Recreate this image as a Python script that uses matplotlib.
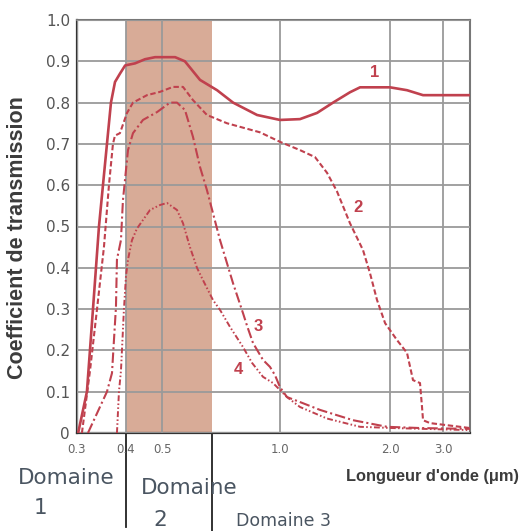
import numpy as np
import matplotlib
matplotlib.use('Agg')
import matplotlib.pyplot as plt
import matplotlib.transforms as mtransforms

plt.rcParams['font.family'] = ['Liberation Sans', 'DejaVu Sans']

# wavelength (um) / transmission for the four glasses
x1 = [0.302, 0.318, 0.3295, 0.3413, 0.3494, 0.3577, 0.3662, 0.375, 0.386, 0.398, 0.423, 0.450, 0.479,
      0.540, 0.572, 0.625, 0.691, 0.759, 0.874, 1.0, 1.134, 1.263, 1.397, 1.554, 1.656, 2.0, 2.278, 2.575, 3.7]
y1 = [0, 0.10, 0.30, 0.50, 0.60, 0.70, 0.80, 0.85, 0.87, 0.89, 0.895, 0.905, 0.91,
      0.91, 0.90, 0.855, 0.83, 0.80, 0.77, 0.758, 0.76, 0.775, 0.80, 0.825, 0.837, 0.837, 0.83, 0.818, 0.818]

x2 = [0.3088, 0.3237, 0.3374, 0.3514, 0.3619, 0.3705, 0.3749, 0.386, 0.4025, 0.4177, 0.4555, 0.4938,
      0.5333, 0.5656, 0.5998, 0.6511, 0.7324, 0.8892, 1.0, 1.134, 1.247, 1.345, 1.432, 1.554, 1.687,
      1.763, 1.843, 1.939, 2.110, 2.278, 2.385, 2.516, 2.555, 2.575, 2.716, 3.7]
y2 = [0, 0.15, 0.30, 0.45, 0.60, 0.70, 0.72, 0.726, 0.775, 0.80, 0.818, 0.826,
      0.838, 0.838, 0.806, 0.77, 0.75, 0.728, 0.705, 0.685, 0.668, 0.63, 0.585, 0.508, 0.443,
      0.387, 0.322, 0.266, 0.225, 0.194, 0.128, 0.121, 0.063, 0.031, 0.024, 0.012]

x3 = [0.3199, 0.3577, 0.3684, 0.3727, 0.3771, 0.3793, 0.3883, 0.3929, 0.4050, 0.4177, 0.4444, 0.4848,
      0.5240, 0.5460, 0.5723, 0.5998, 0.6251, 0.6511, 0.7031, 0.7587, 0.8048, 0.8237, 0.8533, 0.9049,
      0.9430, 0.9710, 1.0, 1.045, 1.134, 1.286, 1.584, 1.963, 2.516, 3.7]
y3 = [0, 0.10, 0.145, 0.225, 0.305, 0.42, 0.467, 0.564, 0.685, 0.726, 0.758, 0.777,
      0.80, 0.80, 0.782, 0.717, 0.644, 0.588, 0.467, 0.363, 0.29, 0.26, 0.218, 0.177,
      0.16, 0.14, 0.111, 0.087, 0.075, 0.056, 0.031, 0.015, 0.012, 0.01]

x4 = [0.3793, 0.3838, 0.3883, 0.3929, 0.3952, 0.400, 0.4050, 0.4151, 0.4281, 0.4642, 0.4938, 0.5149,
      0.5460, 0.5656, 0.5893, 0.6141, 0.6362, 0.6745, 0.7031, 0.7454, 0.8048, 0.8482, 0.9049, 0.9597,
      1.045, 1.134, 1.345, 1.656, 2.046, 3.7]
y4 = [0, 0.10, 0.15, 0.25, 0.30, 0.38, 0.42, 0.467, 0.495, 0.54, 0.552, 0.557,
      0.54, 0.508, 0.45, 0.40, 0.37, 0.322, 0.298, 0.257, 0.208, 0.17, 0.136, 0.121,
      0.087, 0.063, 0.035, 0.015, 0.012, 0.007]

xticks = [0.3, 0.4, 0.5, 1.0, 2.0, 3.0]
xtick_labels = ['0.3', '0.4', '0.5', '1.0', '2.0', '3.0']
yticks = [0, 0.1, 0.2, 0.3, 0.4, 0.5, 0.6, 0.7, 0.8, 0.9, 1.0]
ytick_labels = ['0', '0.1', '0.2', '0.3', '0.4', '0.5', '0.6', '0.7', '0.8', '0.9', '1.0']
domain2 = (0.4, 0.67)

# the printed axis is roughly logarithmic but uneven, follow it piecewise
AX_LOG = np.log10([0.3, 0.4, 0.5, 1.0, 2.0, 3.0, 3.7])
AX_POS = np.array([0, 49, 85, 203, 313, 366, 393], dtype=float)

def fwd(x):
    x = np.clip(np.asarray(x, dtype=float), 1e-3, None)
    return np.interp(np.log10(x), AX_LOG, AX_POS)

def inv(p):
    return 10 ** np.interp(np.asarray(p, dtype=float), AX_POS, AX_LOG)

red = '#c0414e'
W, H = 523, 531
fig = plt.figure(figsize=(W / 100, H / 100), dpi=100)
ax = fig.add_axes([77 / W, 1 - 433 / H, 393 / W, 413 / H])
ax.set_xscale('function', functions=(fwd, inv))
ax.set_xlim(0.3, 3.7)
ax.set_ylim(0, 1.0)

ax.axvspan(domain2[0], domain2[1], color='#d8ab97', zorder=0.5, lw=0)

ax.plot(x1, y1, color=red, lw=1.9, zorder=4)
ax.plot(x2, y2, color=red, lw=1.5, ls=(0, (2.6, 1.3)), zorder=4)
ax.plot(x3, y3, color=red, lw=1.5, ls=(0, (5, 1.5, 1, 1.5)), zorder=4)
ax.plot(x4, y4, color=red, lw=1.4, ls=(0, (3, 1.2, 0.8, 1.2, 0.8, 1.2)), zorder=4)

for txt, tx, ty in [('1', 1.82, 0.872), ('2', 1.635, 0.547), ('3', 0.879, 0.257), ('4', 0.781, 0.153)]:
    ax.text(tx, ty, txt, color=red, fontsize=12, fontweight='bold', ha='center', va='center', zorder=5)

ax.set_axisbelow(False)
ax.grid(True, color='#9a9a9a', lw=1.3, zorder=2)
ax.set_xticks(xticks)
ax.set_xticklabels(xtick_labels, family='DejaVu Sans', fontsize=8.5, color='#666666')
ax.set_yticks(yticks)
ax.set_yticklabels(ytick_labels, family='DejaVu Sans', fontsize=11, color='#555555')
ax.minorticks_off()
ax.tick_params(axis='both', length=0)
ax.tick_params(axis='x', pad=7)
ax.tick_params(axis='y', pad=5)
for side in ['top', 'right']:
    ax.spines[side].set_color('#777777')
    ax.spines[side].set_linewidth(1.5)
for side in ['left', 'bottom']:
    ax.spines[side].set_color('#333333')
    ax.spines[side].set_linewidth(1.6)

# domain separators below the axis
trans = mtransforms.blended_transform_factory(ax.transData, ax.transAxes)
ax.plot([domain2[0], domain2[0]], [0, -0.228], color='#222222', lw=1.3, transform=trans, clip_on=False)
ax.plot([domain2[1], domain2[1]], [0, -0.24], color='#222222', lw=1.3, transform=trans, clip_on=False)

fig.text(18 / W, 1 - 238 / H, 'Coefficient de transmission', rotation=90, ha='center', va='center',
         fontsize=15.5, fontweight='bold', color='#3c3c3c')
fig.text(432 / W, 1 - 477 / H, "Longueur d'onde (μm)", ha='center', va='center',
         fontsize=11.8, fontweight='bold', color='#3c3c3c')

dcol = '#4a5561'
dfont = 'DejaVu Sans'
fig.text(66 / W, 1 - 478 / H, 'Domaine', ha='center', va='center', fontsize=15.5,
         color=dcol, family=dfont)
fig.text(40 / W, 1 - 508 / H, '1', ha='center', va='center', fontsize=15.5,
         color=dcol, family=dfont)
fig.text(189 / W, 1 - 488 / H, 'Domaine', ha='center', va='center', fontsize=15.5,
         color=dcol, family=dfont)
fig.text(160 / W, 1 - 520 / H, '2', ha='center', va='center', fontsize=15.5,
         color=dcol, family=dfont)
fig.text(283 / W, 1 - 521 / H, 'Domaine 3', ha='center', va='center', fontsize=12.5,
         color=dcol, family=dfont)

fig.savefig('out.png', dpi=100)
